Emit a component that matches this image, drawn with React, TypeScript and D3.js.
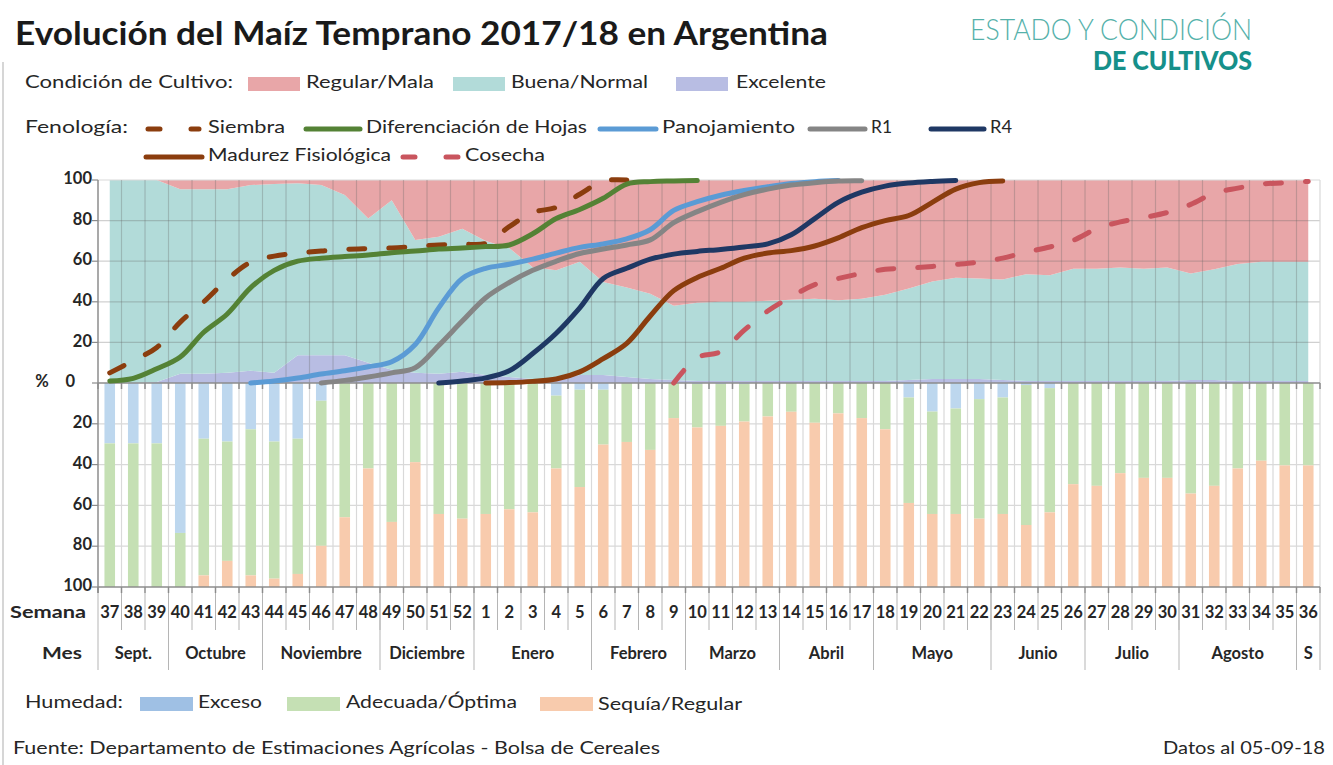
import React from 'react';
import * as d3 from 'd3';

// ---- data ----
const weekLabels = ['37','38','39','40','41','42','43','44','45','46','47','48','49','50','51','52',
  '1','2','3','4','5','6','7','8','9','10','11','12','13','14','15','16','17','18','19','20',
  '21','22','23','24','25','26','27','28','29','30','31','32','33','34','35','36'];
const monthNames = ['Sept.','Octubre','Noviembre','Diciembre','Enero','Febrero','Marzo','Abril','Mayo','Junio','Julio','Agosto','S'];
const monthWeeks = [3,4,5,4,5,4,4,4,5,4,4,5,1];

// condición de cultivo (%)
const excelente = [0,0,0.5,4.5,4.5,5,6,5,13.7,13.7,13.7,10,6.5,5,4.5,5.5,4,3,2,2,4,4,3,2,1.5,1,1,1,1,1,1,1,1,1,1.5,2,2,2,1.5,1,1,1,1,1,1,1,1.5,1.5,1,1,1,1];
const buenaNormal = [100,100,99.5,90.9,90.9,90.4,91.5,93,84.7,83.8,78.9,71,83.5,65.5,67.5,70.5,66,63.5,55,53.6,55.7,45.8,44,42,36.5,38.5,39,39,39.5,40,40.5,39.8,40.5,42.5,45,48,49.8,49.5,49.5,52.6,52.1,55.3,55.3,55.9,55.3,55.9,52.5,54.5,57.6,58.7,58.7,58.7];
const regularMala = [0,0,0,4.6,4.6,4.6,2.5,2,1.6,2.5,7.4,19,10,29.5,28,24,30,33.5,43,44.4,40.3,50.2,53,56,62,60.5,60,60,59.5,59,58.5,59.2,58.5,56.5,53.5,50,48.2,48.5,49,46.4,46.9,43.7,43.7,43.1,43.7,43.1,46,44,41.4,40.3,40.3,40.3];

// fenología (% acumulado), null = sin dato
const N = null;
const siembra = [5,11,17.5,30,40,51,59.5,62.5,64,65,65.8,66.2,66.5,67.2,68,68.4,68.8,77,84,86.5,93,99.5,100,
  N,N,N,N,N,N,N,N,N,N,N,N,N,N,N,N,N,N,N,N,N,N,N,N,N,N,N,N,N];
const difHojas = [1,2.3,7,12.8,25,34,47,55.5,60,61.5,62.3,63,64.2,65,66,66.5,67.2,68,73.5,81,85.5,91,98,99.2,99.5,99.7,
  N,N,N,N,N,N,N,N,N,N,N,N,N,N,N,N,N,N,N,N,N,N,N,N,N,N];
const panojamiento = [N,N,N,N,N,N,0,1,2.5,4.4,6,8,10.5,19,37,51.5,56.5,58.5,61,64,66.8,68.5,71,75.5,85,89.3,92.5,94.8,96.7,98.3,99.2,99.7,
  N,N,N,N,N,N,N,N,N,N,N,N,N,N,N,N,N,N,N,N];
const r1 = [N,N,N,N,N,N,N,N,N,0,1.3,3,5,7.5,18.5,30.5,42,49.5,55.5,60,63.8,66,68,70.5,79,84.4,89,92.8,95.5,97.5,98.7,99.5,99.6,
  N,N,N,N,N,N,N,N,N,N,N,N,N,N,N,N,N,N,N];
const r4 = [N,N,N,N,N,N,N,N,N,N,N,N,N,N,0,1,2.5,6,14.5,24.5,37,51.5,56.5,61,63.5,64.8,65.8,67,68.5,73,81,89,94,97,98.5,99.3,99.8,
  N,N,N,N,N,N,N,N,N,N,N,N,N,N,N];
const madurez = [N,N,N,N,N,N,N,N,N,N,N,N,N,N,N,N,0,0.2,0.8,2,5.5,12,19.5,33,45.5,52,56.5,61.5,64,65.2,67.5,71.5,76.5,80,82.5,89,95.5,98.7,99.5,
  N,N,N,N,N,N,N,N,N,N,N,N,N];
const cosecha = [N,N,N,N,N,N,N,N,N,N,N,N,N,N,N,N,N,N,N,N,N,N,N,N,0,12.5,15.5,26,35.5,42.5,48.5,51.5,54,56,56.6,57.4,58.4,59.6,61.5,64.5,67,70.3,76,79.4,81.5,84,88,93.5,96,98,98.6,99.3];

// humedad (%)
const exceso = [29.6,29.6,29.6,73.5,27.3,28.7,22.7,28.7,27.3,8.7,0,0,0,0,0,0,0,0,0,6.2,3.3,3.3,0,0,0,0.5,0.5,0.5,0,0,0,0,0,0,7.1,14,12.5,7.9,7.1,1,2.5,0,0,0,0,0,0,0,0,0,0,0];
const adecuada = [70.4,70.4,70.4,26.5,67,58.5,71.6,67.2,66.3,71.1,65.8,41.9,68.1,38.8,64.2,66.5,64.2,61.9,63.4,35.7,47.7,26.9,28.9,32.8,17.2,21.3,20.5,18.4,16.4,14.1,19.5,14.9,17.2,22.7,51.7,50.2,51.7,58.6,57.1,68.6,60.9,49.6,50.4,44.2,46.5,46.5,54.2,50.4,41.9,38.1,40.4,40.4];
const sequia = [0,0,0,0,5.7,12.8,5.7,4.1,6.4,20.2,34.2,58.1,31.9,61.2,35.8,33.5,35.8,38.1,36.6,58.1,49,69.8,71.1,67.2,82.8,78.2,79,81.1,83.6,85.9,80.5,85.1,82.8,77.3,41.2,35.8,35.8,33.5,35.8,30.4,36.6,50.4,49.6,55.8,53.5,53.5,45.8,49.6,58.1,61.9,59.6,59.6];

const yTicks = [20, 40, 60, 80, 100];

const FONT = "Lato, 'Liberation Sans', Arial, sans-serif";
const W = 1333, H = 765;
const X0 = 98, X1 = 1320;

const condColors = { excelente: '#b8bde3', buena: '#b2dbd9', regular: '#e8a6a8' };
const humColors = { exceso: '#bdd7ee', adecuada: '#c5e0b4', sequia: '#f8cbad' };

const phenoSeries = [
  { name: 'Siembra', values: siembra, color: '#8b3d0e', dash: true },
  { name: 'Diferenciación de Hojas', values: difHojas, color: '#548235', dash: false },
  { name: 'Panojamiento', values: panojamiento, color: '#5b9bd5', dash: false },
  { name: 'R1', values: r1, color: '#858585', dash: false },
  { name: 'R4', values: r4, color: '#1f3864', dash: false },
  { name: 'Madurez Fisiológica', values: madurez, color: '#8b3d0e', dash: false },
  { name: 'Cosecha', values: cosecha, color: '#c9555e', dash: true },
];

const Txt = ({ x, y, w, size = 17.5, weight = 400, fill = '#262626', anchor = 'start', children }: any) => (
  <text x={x} y={y} fontSize={size} fontWeight={weight} fill={fill} textAnchor={anchor}
    fontFamily={FONT} dominantBaseline="middle"
    {...(w ? { textLength: w, lengthAdjust: 'spacingAndGlyphs' } : {})}>{children}</text>
);

export default function App() {
  const x = d3.scaleBand<string>().domain(weekLabels).range([X0, X1]);
  const bw = x.bandwidth();
  const xc = (i: number) => (x(weekLabels[i]) as number) + bw / 2;
  const yTop = d3.scaleLinear().domain([0, 100]).range([383, 180]);
  const yBot = d3.scaleLinear().domain([0, 100]).range([383, 587]);

  // stacked condition areas
  const condRows = weekLabels.map((_, i) => ({ excelente: excelente[i], buena: buenaNormal[i], regular: regularMala[i] }));
  const condStack = d3.stack<any>().keys(['excelente', 'buena', 'regular'])(condRows);
  const area = d3.area<any>().x((_, i) => xc(i)).y0(d => yTop(d[0])).y1(d => yTop(d[1]));

  // stacked humidity bars
  const humRows = weekLabels.map((_, i) => ({ exceso: exceso[i], adecuada: adecuada[i], sequia: sequia[i] }));
  const humStack = d3.stack<any>().keys(['exceso', 'adecuada', 'sequia'])(humRows);
  const barW = bw * 0.45;

  const line = d3.line<number | null>()
    .defined(d => d != null)
    .x((_, i) => xc(i))
    .y(d => yTop(d as number))
    .curve(d3.curveCatmullRom.alpha(0.5));

  const boundaries = d3.range(1, weekLabels.length).map(i => x(weekLabels[i]) as number);

  // month spans
  let acc = 0;
  const months = monthNames.map((m, k) => {
    const start = acc;
    acc += monthWeeks[k];
    return { name: m, x0: x(weekLabels[start]) as number, x1: acc >= weekLabels.length ? X1 : (x(weekLabels[acc]) as number) };
  });

  const legendLine = (x1: number, x2: number, y: number, s: any) => (
    <line x1={x1 + 3} x2={x2 - 3} y1={y} y2={y} stroke={s.color} strokeWidth={5} strokeLinecap="round"
      strokeDasharray={s.dash ? '12 31' : undefined} />
  );

  return (
    <div style={{ position: 'absolute', left: 0, top: 0, width: W, height: H, background: '#fff' }}>
      <svg width={W} height={H} style={{ display: 'block' }}>
        <rect width={W} height={H} fill="#fff" />
        <line x1={3} x2={3} y1={62} y2={H} stroke="#c8c8c8" strokeWidth={1.5} />

        {/* title + logo */}
        <Txt x={15} y={37} size={32} weight={700} fill="#1a1a1a" w={813}>Evolución del Maíz Temprano 2017/18 en Argentina</Txt>
        <Txt x={970} y={33} size={29} weight={300} fill="#55b1aa" w={282}>ESTADO Y CONDICIÓN</Txt>
        <Txt x={1093} y={63} size={27} weight={900} fill="#16908a" w={159}>DE CULTIVOS</Txt>

        {/* condition legend */}
        <Txt x={25} y={84} w={208}>Condición de Cultivo:</Txt>
        <rect x={248} y={77} width={52} height={14} fill={condColors.regular} />
        <Txt x={306} y={84} w={128}>Regular/Mala</Txt>
        <rect x={453} y={77} width={52} height={14} fill={condColors.buena} />
        <Txt x={511} y={84} w={137}>Buena/Normal</Txt>
        <rect x={676} y={77} width={52} height={14} fill={condColors.excelente} />
        <Txt x={736} y={84} w={90}>Excelente</Txt>

        {/* phenology legend */}
        <Txt x={25} y={129} w={103}>Fenología:</Txt>
        {legendLine(145, 202, 129, phenoSeries[0])}
        <Txt x={208} y={129} w={77}>Siembra</Txt>
        {legendLine(303, 363, 129, phenoSeries[1])}
        <Txt x={366} y={129} w={221}>Diferenciación de Hojas</Txt>
        {legendLine(597, 659, 129, phenoSeries[2])}
        <Txt x={662} y={129} w={133}>Panojamiento</Txt>
        {legendLine(807, 868, 129, phenoSeries[3])}
        <Txt x={871} y={129} w={21}>R1</Txt>
        {legendLine(928, 987, 129, phenoSeries[4])}
        <Txt x={990} y={129} w={22}>R4</Txt>
        {legendLine(143, 205, 157, phenoSeries[5])}
        <Txt x={208} y={157} w={183}>Madurez Fisiológica</Txt>
        {legendLine(400, 462, 157, phenoSeries[6])}
        <Txt x={465} y={157} w={80}>Cosecha</Txt>

        {/* bottom chart grid */}
        {yTicks.slice(0, 4).map(t => (
          <line key={'bg' + t} x1={X0} x2={X1} y1={yBot(t)} y2={yBot(t)} stroke="#d9d9d9" strokeWidth={1.2} />
        ))}
        {boundaries.map((bx, i) => (
          <line key={'bv' + i} x1={bx} x2={bx} y1={383} y2={587} stroke="#d9d9d9" strokeWidth={1.2} />
        ))}

        {/* humidity bars */}
        {humStack.map(layer => (
          <g key={layer.key} fill={(humColors as any)[layer.key]}>
            {layer.map((d, i) => (
              <rect key={i} x={xc(i) - barW / 2} width={barW} y={yBot(d[0])} height={Math.max(0, yBot(d[1]) - yBot(d[0]))} />
            ))}
          </g>
        ))}

        {/* condition areas */}
        {condStack.map(layer => (
          <path key={layer.key} d={area(layer) as string} fill={(condColors as any)[layer.key]} />
        ))}

        {/* top chart grid (over areas) */}
        {yTicks.map(t => (
          <line key={'tg' + t} x1={X0} x2={X1} y1={yTop(t)} y2={yTop(t)}
            stroke={t === 100 ? '#d9d9d9' : 'rgba(100,100,100,0.3)'} strokeWidth={1.2} />
        ))}
        {boundaries.map((bx, i) => (
          <line key={'tv' + i} x1={bx} x2={bx} y1={180} y2={383} stroke="rgba(100,100,100,0.3)" strokeWidth={1.2} />
        ))}

        {/* axes */}
        <line x1={X1} x2={X1} y1={180} y2={587} stroke="#d9d9d9" strokeWidth={1.2} />
        <line x1={X0} x2={X1} y1={383} y2={383} stroke="#8c8c8c" strokeWidth={1.5} />
        <line x1={X0} x2={X1} y1={587} y2={587} stroke="#8c8c8c" strokeWidth={1.5} />
        <line x1={X0} x2={X0} y1={180} y2={593} stroke="#8c8c8c" strokeWidth={1.5} />
        {[X0, ...boundaries, X1].map((bx, i) => (
          <g key={'tk' + i} stroke="#8c8c8c" strokeWidth={1.5}>
            <line x1={bx} x2={bx} y1={383} y2={389} />
            <line x1={bx} x2={bx} y1={587} y2={593} />
          </g>
        ))}
        {[0, ...yTicks].map(t => (
          <line key={'ytk' + t} x1={92} x2={X0} y1={yTop(t)} y2={yTop(t)} stroke="#8c8c8c" strokeWidth={1.2} />
        ))}
        {yTicks.map(t => (
          <line key={'ybk' + t} x1={92} x2={X0} y1={yBot(t)} y2={yBot(t)} stroke="#8c8c8c" strokeWidth={1.2} />
        ))}

        {/* phenology lines */}
        {phenoSeries.map(s => (
          <path key={s.name} d={line(s.values) as string} fill="none" stroke={s.color} strokeWidth={5}
            strokeLinecap="round" strokeLinejoin="round" strokeDasharray={s.dash ? '16 24' : undefined} />
        ))}

        {/* y labels */}
        {yTicks.map(t => (
          <Txt key={'yl' + t} x={92} y={yTop(t)} size={16.5} weight={700} anchor="end">{t}</Txt>
        ))}
        <Txt x={75} y={yTop(0)} size={16.5} weight={700} anchor="end">0</Txt>
        <Txt x={42} y={yTop(0)} size={16.5} weight={700} anchor="middle">%</Txt>
        {yTicks.map(t => (
          <Txt key={'yb' + t} x={92} y={yBot(t)} size={16.5} weight={700} anchor="end">{t}</Txt>
        ))}

        {/* week / month table */}
        <Txt x={10} y={614} size={17} weight={700} w={76}>Semana</Txt>
        <Txt x={42} y={655} size={17} weight={700} w={40}>Mes</Txt>
        {weekLabels.map((w, i) => (
          <Txt key={'wk' + i} x={xc(i)} y={614} size={16.5} weight={700} anchor="middle">{w}</Txt>
        ))}
        {boundaries.map((bx, i) => (
          <line key={'ws' + i} x1={bx} x2={bx} y1={593} y2={630} stroke="#b5b5b5" strokeWidth={1} />
        ))}
        {months.map((m, k) => (
          <g key={'m' + k}>
            <line x1={m.x0} x2={m.x0} y1={593} y2={670} stroke="#b5b5b5" strokeWidth={1} />
            <Txt x={(m.x0 + m.x1) / 2} y={655} size={16.5} weight={700} anchor="middle">{m.name}</Txt>
          </g>
        ))}
        <line x1={X1} x2={X1} y1={593} y2={670} stroke="#b5b5b5" strokeWidth={1} />

        {/* humidity legend */}
        <Txt x={25} y={704} w={98}>Humedad:</Txt>
        <rect x={140} y={697} width={53} height={14} fill="#9fc0e4" />
        <Txt x={198} y={704} w={64}>Exceso</Txt>
        <rect x={287} y={697} width={53} height={14} fill={humColors.adecuada} />
        <Txt x={346} y={704} w={171}>Adecuada/Óptima</Txt>
        <rect x={540} y={697} width={53} height={14} fill={humColors.sequia} />
        <Txt x={598} y={706} w={144}>Sequía/Regular</Txt>

        {/* footer */}
        <Txt x={13} y={750} size={17} w={647}>Fuente: Departamento de Estimaciones Agrícolas - Bolsa de Cereales</Txt>
        <Txt x={1325} y={750} size={17} anchor="end" w={162}>Datos al 05-09-18</Txt>
      </svg>
    </div>
  );
}
